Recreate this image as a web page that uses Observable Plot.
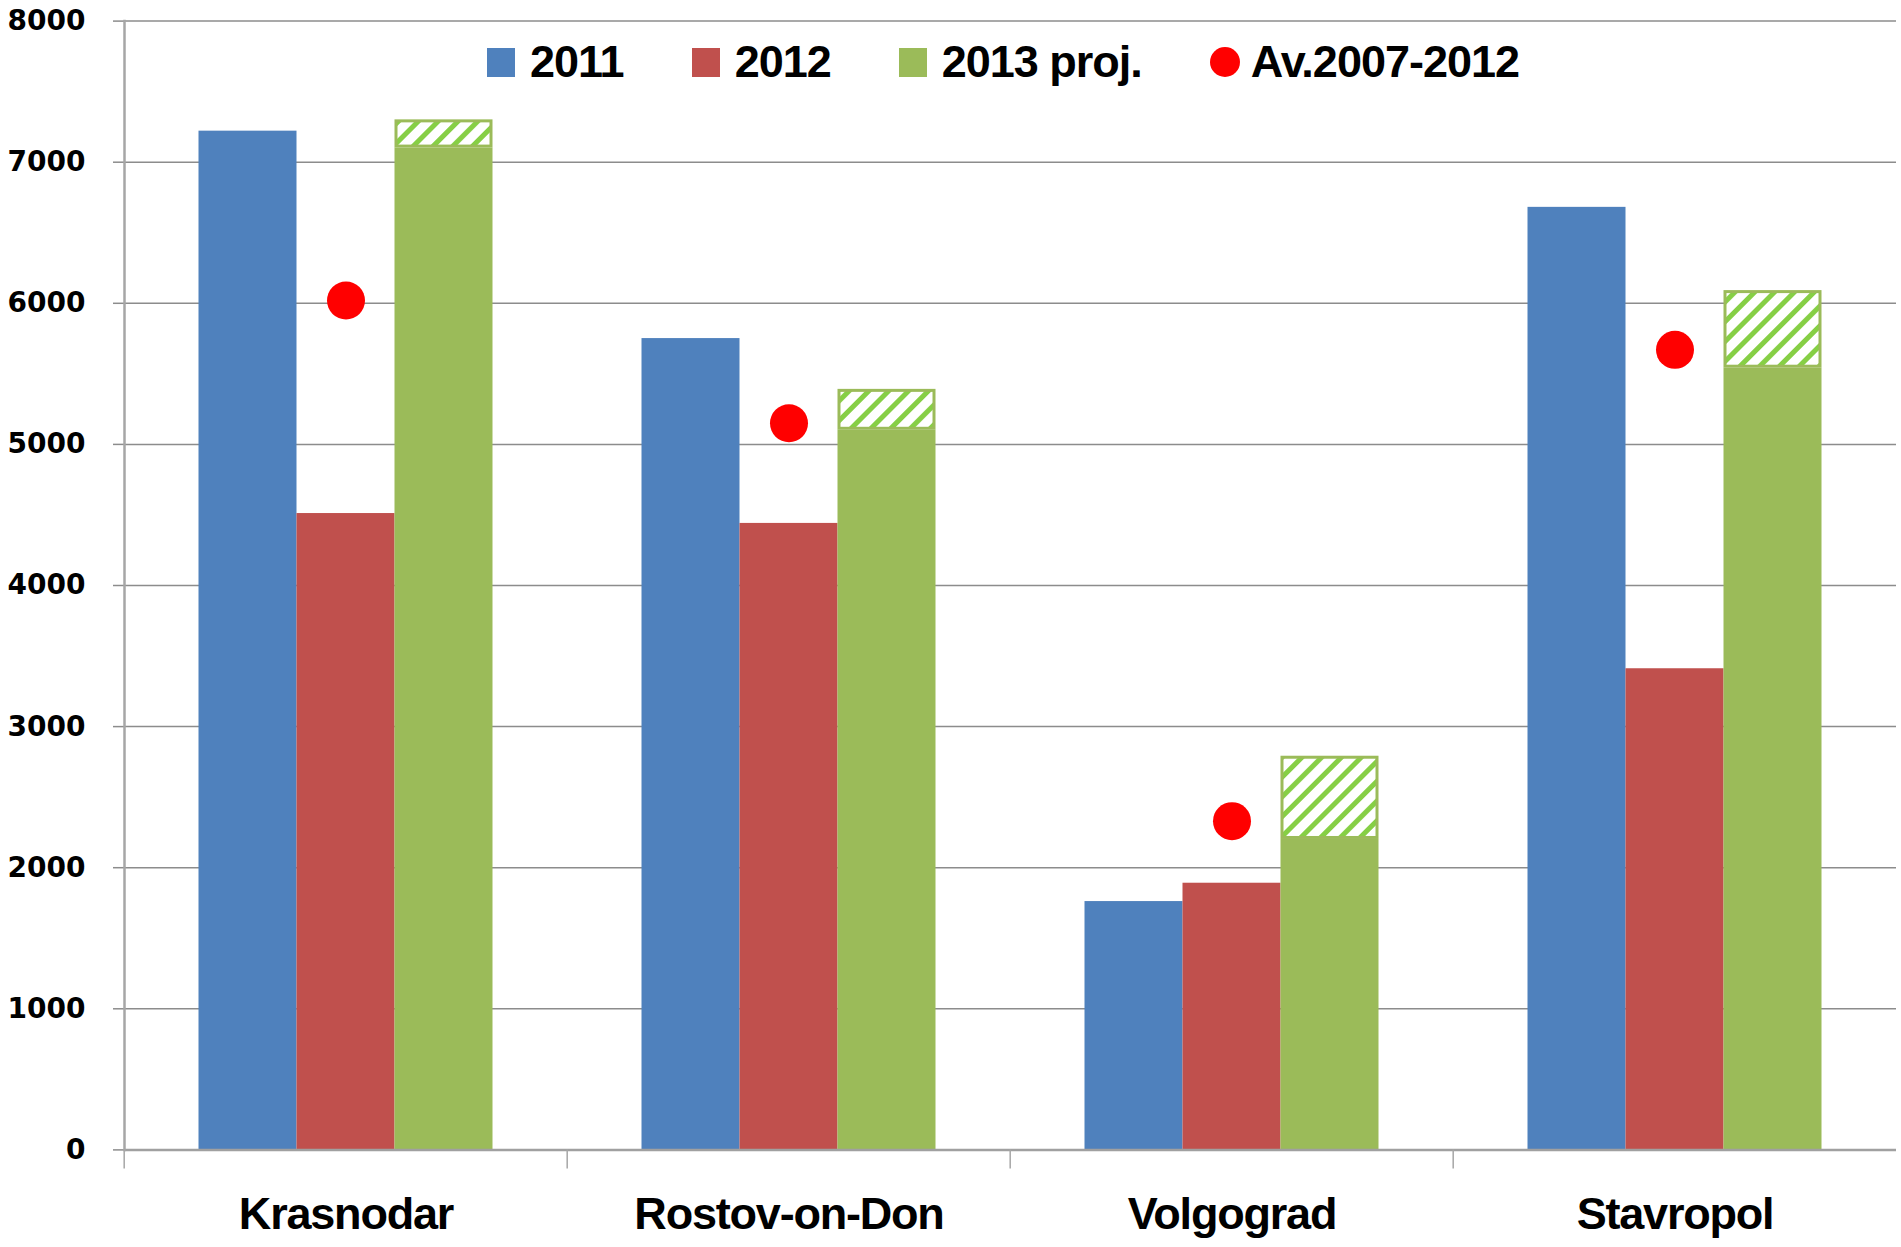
<!DOCTYPE html>
<html>
<head>
<meta charset="utf-8">
<script src="https://cdn.jsdelivr.net/npm/d3@7"></script>
<script src="https://cdn.jsdelivr.net/npm/@observablehq/plot@0.6"></script>
<style>
  html, body { margin: 0; padding: 0; background: #fff; }
  #wrap { position: relative; width: 1901px; height: 1247px; overflow: hidden; }
  #legend { position: absolute; left: 487px; top: 36px; display: flex; align-items: center; column-gap: 68px;
    font-family: "Liberation Sans Narrow", "Arial Narrow", "Liberation Sans", sans-serif; font-weight: bold; font-size: 45px;
    letter-spacing: -1px; color: #000; }
  .item { display: flex; align-items: center; column-gap: 15px; }
  .sw { width: 28px; height: 29px; }
  .dotsw { width: 30px; height: 30px; border-radius: 50%; margin-right: -2px; }
</style>
</head>
<body>
<div id="wrap"><div id="chart"></div><div id="legend"></div></div>
<script>
// ---- data ----
const regions = ["Krasnodar", "Rostov-on-Don", "Volgograd", "Stavropol"];
const seriesNames = ["2011", "2012", "2013 proj."];
const avgName = "Av.2007-2012";
const v2011 = [7220, 5750, 1760, 6680];
const v2012 = [4510, 4440, 1890, 3410];
const v2013Low = [7100, 5100, 2200, 5540];   // solid part of projection
const v2013High = [7300, 5390, 2790, 6090];  // upper bound (hatched range)
const vAvg = [6020, 5150, 2330, 5670];
const yTicks = [0, 1000, 2000, 3000, 4000, 5000, 6000, 7000, 8000];

// ---- styles ----
const colors = ["#4F81BD", "#C0504D", "#9BBB59"];
const dotColor = "#FF0000";
const W = 1901, H = 1247;
const mL = 122.5, mR = 4, mT = 20.6, mB = 97.6;
const catFont = '"Liberation Sans Narrow", "Arial Narrow", "Liberation Sans", sans-serif';

const bars = regions.flatMap((r, i) => [
  {region: r, series: seriesNames[0], value: v2011[i]},
  {region: r, series: seriesNames[1], value: v2012[i]},
  {region: r, series: seriesNames[2], value: v2013Low[i]}
]);
const hatch = regions.map((r, i) => ({region: r, series: seriesNames[2], lo: v2013Low[i], hi: v2013High[i]}));
const avgs = regions.map((r, i) => ({region: r, series: seriesNames[1], value: vAvg[i]}));

const facetW = (W - mL - mR) / regions.length;

const chart = Plot.plot({
  width: W, height: H,
  marginLeft: mL, marginRight: mR, marginTop: mT, marginBottom: mB,
  style: {fontFamily: catFont, background: "white"},
  fx: {domain: regions, padding: 0, axis: null},
  x: {domain: seriesNames, paddingInner: 0, paddingOuter: 0.76, axis: null},
  y: {domain: [0, 8000], axis: null},
  color: {domain: seriesNames, range: colors},
  marks: [
    Plot.gridY(yTicks, {stroke: "#8c8c8c", strokeOpacity: 1, strokeWidth: 1.5}),
    Plot.axisY(yTicks, {tickSize: 11, tickPadding: 28, stroke: "#8c8c8c", strokeWidth: 1.5, tickFormat: d3.format("d"),
      fill: "black", fontSize: 28, fontWeight: "bold", fontFamily: "DejaVu Sans", label: null}),
    Plot.barY(bars, {fx: "region", x: "series", y: "value", fill: "series"}),
    Plot.barY(hatch, {fx: "region", x: "series", y1: "lo", y2: "hi", fill: "url(#hatch13)",
      stroke: "#9BBB59", strokeWidth: 3, inset: 1.5}),
    Plot.ruleY([0], {stroke: "#a0a0a0", strokeWidth: 2.5}),
    Plot.frame({anchor: "left", facetAnchor: "left", stroke: "#a6a6a6", strokeWidth: 2.5}),
    Plot.axisFx({anchor: "bottom", tickSize: 19, tickFormat: () => "", stroke: "#a6a6a6",
      strokeWidth: 1.5, dx: -facetW / 2, label: null}),
    Plot.axisFx({anchor: "bottom", tickSize: 0, tickPadding: 47, fontSize: 45, fontWeight: "bold",
      fontFamily: catFont, fill: "black", label: null}),
    Plot.dot(avgs, {fx: "region", x: "series", y: "value", r: 19, fill: dotColor, stroke: "none"})
  ]
});

// condensed look for category labels
chart.querySelectorAll('g[aria-label="fx-axis tick label"] text').forEach(t => t.setAttribute("letter-spacing", "-1.2"));

// hatch pattern definition
const ns = "http://www.w3.org/2000/svg";
const defs = document.createElementNS(ns, "defs");
defs.innerHTML = '<pattern id="hatch13" width="14" height="14" patternUnits="userSpaceOnUse" patternTransform="rotate(45)">' +
  '<rect width="14" height="14" fill="white"></rect><rect width="5" height="14" fill="#86CF45"></rect></pattern>';
chart.insertBefore(defs, chart.firstChild);
document.getElementById("chart").appendChild(chart);

// legend
const legend = document.getElementById("legend");
seriesNames.forEach((s, i) => {
  const it = document.createElement("div"); it.className = "item";
  const sw = document.createElement("div"); sw.className = "sw"; sw.style.background = colors[i];
  const tx = document.createElement("span"); tx.textContent = s;
  it.append(sw, tx); legend.append(it);
});
{
  const it = document.createElement("div"); it.className = "item"; it.style.columnGap = "13px";
  const sw = document.createElement("div"); sw.className = "dotsw"; sw.style.background = dotColor;
  const tx = document.createElement("span"); tx.textContent = avgName;
  it.append(sw, tx); legend.append(it);
}
</script>
</body>
</html>
